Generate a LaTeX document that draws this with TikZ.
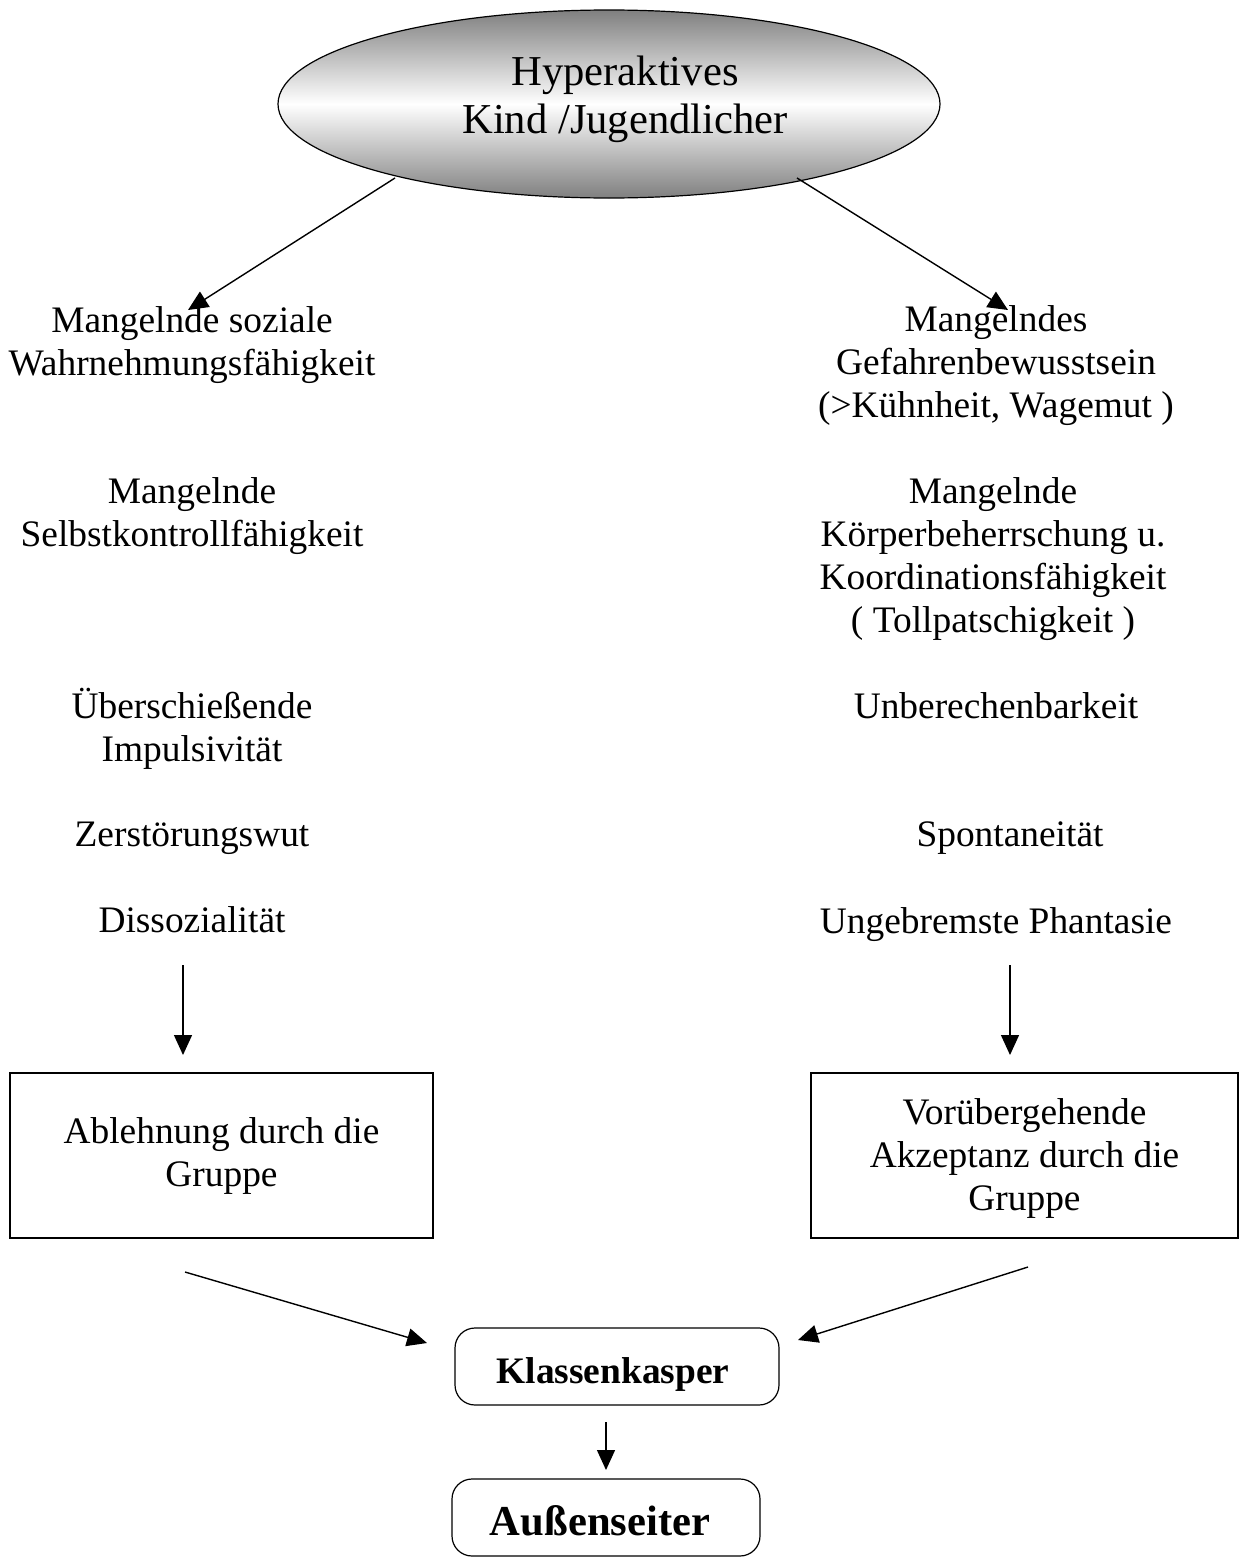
\documentclass[tikz,border=0pt]{standalone}
\usepackage{fontspec}
\setmainfont{Liberation Serif}
\usetikzlibrary{arrows.meta,shapes.geometric}
\tikzset{
  txt/.style={align=center,inner sep=0pt,font=\fontsize{18.7pt}{21.5pt}\selectfont},
  bigtxt/.style={align=center,inner sep=0pt,font=\fontsize{21.3pt}{24pt}\selectfont},
  box/.style={draw,line width=0.6pt,align=center,inner sep=0pt,font=\fontsize{18.7pt}{21.5pt}\selectfont},
  rbox/.style={box,rounded corners=10pt},
  arr/.style={line width=0.7pt,-{Triangle[length=10pt,width=9pt]}}
}
\begin{document}
\begin{tikzpicture}[x=0.5pt,y=-0.5pt]
\useasboundingbox (0,0) rectangle (1239,1563);
% ellipse
\node[ellipse,draw,line width=0.6pt,minimum width=331pt,minimum height=94pt,inner sep=0pt,
  top color=black!50,bottom color=black!50,middle color=white] (ell) at (609,104) {};
\node[bigtxt] (ellt) at (625,99) {Hyperaktives\\Kind /Jugendlicher};
% left column
\node[txt] (l1) at (192,345) {Mangelnde soziale\\Wahrnehmungsfähigkeit};
\node[txt] (l2) at (192,516) {Mangelnde\\Selbstkontrollfähigkeit};
\node[txt] (l3) at (192,729) {Überschießende\\Impulsivität};
\node[txt] (l4) at (192,838) {Zerstörungswut};
\node[txt] (l5) at (192,920) {Dissozialität};
% right column
\node[txt] (r1) at (996,366) {Mangelndes\\Gefahrenbewusstsein\\(>Kühnheit, Wagemut )};
\node[txt] (r2) at (993,559) {Mangelnde\\Körperbeherrschung u.\\Koordinationsfähigkeit\\( Tollpatschigkeit )};
\node[txt] (r3) at (996,706) {Unberechenbarkeit};
\node[txt] (r4) at (1010,838) {Spontaneität};
\node[txt] (r5) at (996,925) {Ungebremste Phantasie};
% boxes
\node[box,minimum width=211.5pt,minimum height=82.5pt] (bl) at (221.5,1155.5) {};
\node[txt] (blt) at (221.5,1156) {Ablehnung durch die\\Gruppe};
\node[box,minimum width=213.5pt,minimum height=82.5pt] (br) at (1024.5,1155.5) {};
\node[txt] (brt) at (1024.5,1158) {Vorübergehende\\Akzeptanz durch die\\Gruppe};
\node[rbox,minimum width=162pt,minimum height=38.5pt] (kk) at (617,1366.5) {};
\node[txt,font=\fontsize{18.7pt}{21.5pt}\selectfont\bfseries] (kkt) at (613,1374) {Klassenkasper};
\node[rbox,minimum width=154pt,minimum height=38.5pt] (as) at (606,1517.5) {};
\node[txt,font=\fontsize{21.3pt}{24pt}\selectfont\bfseries] (ast) at (600,1521) {Außenseiter};
% connector endpoints
\coordinate (e1s) at (395,178);
\coordinate (e1e) at (188,310);
\coordinate (e2s) at (797,178);
\coordinate (e2e) at (1008,310);
\coordinate (v1s) at (183,965);
\coordinate (v1e) at (183,1055);
\coordinate (v2s) at (1010,965);
\coordinate (v2e) at (1010,1055);
\coordinate (d1s) at (185,1272);
\coordinate (d1e) at (427,1343);
\coordinate (d2s) at (1028,1267);
\coordinate (d2e) at (798,1340);
\coordinate (k1s) at (606,1422);
\coordinate (k1e) at (606,1470);
% connectors
\draw[arr] (e1s) -- (e1e);
\draw[arr] (e2s) -- (e2e);
\draw[arr] (v1s) -- (v1e);
\draw[arr] (v2s) -- (v2e);
\draw[arr] (d1s) -- (d1e);
\draw[arr] (d2s) -- (d2e);
\draw[arr] (k1s) -- (k1e);
\end{tikzpicture}
\end{document}
